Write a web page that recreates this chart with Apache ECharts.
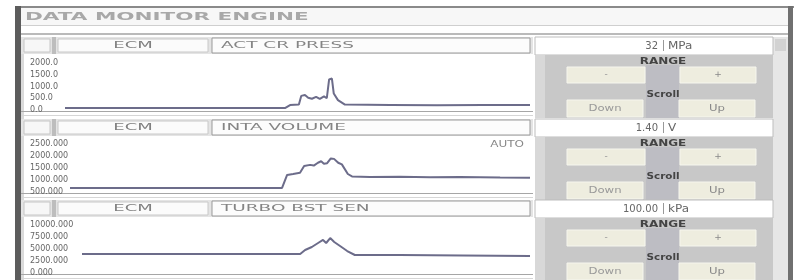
<!DOCTYPE html>
<html>
<head>
<meta charset="utf-8">
<script src="https://cdn.jsdelivr.net/npm/echarts@6/dist/echarts.min.js"></script>
<style>
  html, body { margin: 0; padding: 0; background: #fff; }
  #main { width: 798px; height: 280px; }
</style>
</head>
<body>
<div id="main"></div>
<script>
// header texts
const modules = ['ECM', 'ECM', 'ECM'];
const params = ['ACT CR PRESS', 'INTA VOLUME', 'TURBO BST SEN'];
const readings = ['32', '1.40', '100.00'];
const units = ['MPa', 'V', 'kPa'];

// y tick labels, bottom to top
const ticks1 = ['0.0', '500.0', '1000.0', '1500.0', '2000.0'];
const ticks2 = ['500.000', '1000.000', '1500.000', '2000.000', '2500.000'];
const ticks3 = ['0.000', '2500.000', '5000.000', '7500.000', '10000.000'];

// samples: time (% of window) + value
const time1 = [0, 47.3, 48.4, 50.3, 50.8, 51.6, 52.3, 53.1, 54.0, 54.8, 55.7, 56.3, 56.8, 57.4, 57.8, 58.7, 60.2, 70, 80, 90, 100];
const press = [80, 80, 210, 230, 600, 640, 520, 480, 560, 470, 580, 500, 1300, 1340, 700, 420, 230, 215, 205, 210, 210];

const time2 = [0, 46.1, 47.2, 48.5, 50.0, 50.9, 52.2, 53.0, 53.9, 54.6, 55.2, 55.9, 56.7, 57.4, 58.3, 59.1, 60.4, 61.3, 65.2, 71.7, 78.3, 84.8, 93.5, 100];
const volume = [670, 670, 1210, 1250, 1300, 1580, 1630, 1600, 1720, 1780, 1680, 1700, 1900, 1880, 1720, 1650, 1250, 1150, 1130, 1140, 1110, 1120, 1100, 1090];

const time3 = [0, 48.7, 49.8, 51.3, 52.7, 53.8, 54.5, 55.4, 56.3, 57.6, 59.2, 60.9, 71, 85, 100];
const boost = [3960, 3960, 4790, 5420, 6250, 6880, 6250, 7290, 6460, 5630, 4580, 3750, 3750, 3650, 3540];

const zip = (t, v) => t.map((x, i) => [x, v[i]]);

const grids = [
  { left: 65, top: 63, width: 465, height: 47 },
  { left: 70, top: 144, width: 460, height: 48 },
  { left: 82, top: 225, width: 448, height: 48 }
];
const yDefs = [
  { min: 0, max: 2000, interval: 500, ticks: ticks1 },
  { min: 500, max: 2500, interval: 500, ticks: ticks2 },
  { min: 0, max: 10000, interval: 2500, ticks: ticks3 }
];
const seriesData = [zip(time1, press), zip(time2, volume), zip(time3, boost)];

// ---- static panel drawing ----
const g = [];
function rect(x, y, w, h, fill, stroke) {
  g.push({ type: 'rect', silent: true, shape: { x, y, width: w, height: h },
    style: { fill, stroke: stroke || null, lineWidth: 1 } });
}
function label(x, y, text, o) {
  g.push({ type: 'text', silent: true, x, y, scaleX: o.sx || 1,
    style: { text, font: o.font || '9px DejaVu Sans', fill: o.fill || '#777',
      align: o.align || 'left', verticalAlign: 'middle',
      textAlign: o.align || 'left', textVerticalAlign: 'middle' } });
}

rect(15, 6, 779, 2, '#8a8a8a');
rect(15, 6, 6, 274, '#5c5c5c');
rect(788, 6, 5, 274, '#707070');
rect(21, 8, 767, 17, '#f7f7f7');
label(25, 17, 'DATA MONITOR ENGINE', { font: 'bold 10px DejaVu Sans', fill: '#a8a8a8', sx: 2.15 });
rect(21, 25, 767, 1, '#cfcfcf');
rect(21, 33, 767, 2, '#bababa');
rect(21, 37, 3, 243, '#dadada');
rect(773, 37, 15, 243, '#e6e6e6');
rect(775, 39, 11, 12, '#d2d2d2');

const hy = [37, 119, 200];
const py = [55, 137, 218];
for (let i = 0; i < 3; i++) {
  const y = hy[i], h = 17;
  rect(21, y, 512, h, '#e4e4e4');
  rect(24, y + 2, 26, h - 4, '#f7f7f7', '#c6c6c6');
  rect(52, y, 4, h, '#bdbdbd');
  rect(58, y + 2, 150, h - 4, '#fbfbfb', '#c8c8c8');
  label(133, y + h / 2, modules[i], { align: 'center', sx: 2, fill: '#808080' });
  rect(212, y + 1, 318, h - 2, '#fcfcfc', '#9a9a9a');
  label(221, y + h / 2, params[i], { sx: 2.05, fill: '#858585' });
  rect(535, y, 238, h + 1, '#ffffff', '#bdbdbd');
  label(658, y + h / 2 + 1, readings[i], { align: 'right', font: '10px DejaVu Sans', fill: '#666' });
  rect(663, y + 3, 1, h - 6, '#999');
  label(668, y + h / 2 + 1, units[i], { fill: '#666', font: '10px DejaVu Sans', sx: 1.2 });

  // chart bottom rule
  const b = grids[i].top + grids[i].height;
  rect(21, b + 1, 512, 1, '#a6a6a6');
  rect(21, b + 5, 512, 1, '#d6d6d6');

  // right control box
  const p = py[i], ph = i === 2 ? 62 : 63;
  rect(535, p, 238, ph, '#c8c8c8');
  rect(535, p, 10, ph, '#d8d8d8');
  rect(646, p + 10, 33, ph - 10, '#bdbdc3');
  label(663, p + 7, 'RANGE', { align: 'center', font: 'bold 8px DejaVu Sans', fill: '#444', sx: 1.5 });
  rect(567, p + 12, 78, 16, '#eeeddf', '#f6f6ee');
  rect(680, p + 12, 76, 16, '#eeeddf', '#f6f6ee');
  label(606, p + 20, '-', { align: 'center', fill: '#999' });
  label(718, p + 20, '+', { align: 'center', fill: '#888' });
  label(663, p + 40, 'Scroll', { align: 'center', font: 'bold 8px DejaVu Sans', fill: '#444', sx: 1.3 });
  rect(567, p + 45, 76, 17, '#eeeddf', '#f6f6ee');
  rect(679, p + 45, 76, 17, '#eeeddf', '#f6f6ee');
  label(605, p + 54, 'Down', { align: 'center', fill: '#999', sx: 1.3 });
  label(717, p + 54, 'Up', { align: 'center', fill: '#888', sx: 1.3 });
}
label(524, 145, 'AUTO', { align: 'right', font: '8px DejaVu Sans', fill: '#888', sx: 1.5 });

const chartDom = document.getElementById('main');
const myChart = echarts.init(chartDom);
const option = {
  animation: false,
  backgroundColor: '#fff',
  grid: grids,
  xAxis: grids.map((_, i) => ({
    type: 'value', gridIndex: i, min: 0, max: 100, show: false
  })),
  yAxis: yDefs.map((d, i) => ({
    type: 'value', gridIndex: i, min: d.min, max: d.max, interval: d.interval,
    axisLine: { show: false }, axisTick: { show: false }, splitLine: { show: false },
    axisLabel: {
      align: 'left', margin: grids[i].left - 30, fontSize: 8,
      fontFamily: 'DejaVu Sans', color: '#666',
      formatter: v => d.ticks[Math.round((v - d.min) / d.interval)]
    }
  })),
  series: seriesData.map((data, i) => ({
    type: 'line', xAxisIndex: i, yAxisIndex: i, data,
    showSymbol: false, silent: true,
    lineStyle: { color: '#6c6c8a', width: 2 }
  })),
  graphic: { elements: g }
};
option && myChart.setOption(option);
</script>
</body>
</html>
